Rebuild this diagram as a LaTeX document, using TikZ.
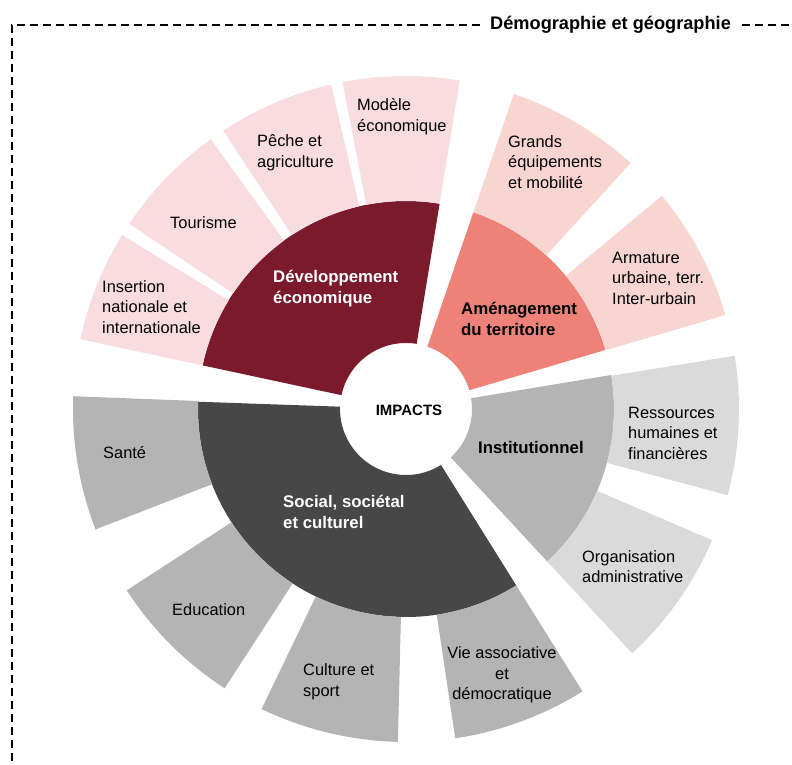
\documentclass[tikz,border=0pt]{standalone}
\usepackage{fontspec}
\setmainfont{Liberation Sans}
\definecolor{devc}{HTML}{7B1A2B}
\definecolor{devo}{HTML}{F8DCE0}
\definecolor{amc}{HTML}{EE8278}
\definecolor{amo}{HTML}{F8D5D0}
\definecolor{inc}{HTML}{B4B4B4}
\definecolor{ino}{HTML}{DADADA}
\definecolor{soc}{HTML}{474747}
\definecolor{soo}{HTML}{B4B4B4}
\newcommand\sectr[5]{\fill[#1, shift={(406,356)}] (#2:#4) -- (#2:#5) arc[start angle=#2,end angle=#3,radius=#5] -- (#3:#4) arc[start angle=#3,end angle=#2,radius=#4] -- cycle;}
\tikzset{
  lbl/.style={anchor=west, align=left, inner sep=0pt, text=black, font=\fontsize{16.4}{20.5}\selectfont},
  blbl/.style={anchor=west, align=left, inner sep=0pt, font=\bfseries\fontsize{16.8}{21}\selectfont},
  frame/.style={line width=1.8pt, dash pattern=on 8pt off 5pt}
}
\begin{document}
\begin{tikzpicture}[x=1pt,y=1pt]
\useasboundingbox (0,0) rectangle (792,765);
% inner ring
\sectr{devc}{80.7}{167.9}{66}{208}
\sectr{amc}{16.5}{71.1}{66}{208}
\sectr{inc}{-47.2}{9.4}{66}{208}
\sectr{soc}{178}{302}{66}{208}
% outer ring
\sectr{devo}{80.7}{101}{208}{333}
\sectr{devo}{103}{123.3}{208}{333}
\sectr{devo}{125.9}{146.2}{208}{333}
\sectr{devo}{148.5}{167.9}{208}{333}
\sectr{amo}{16.4}{39.8}{208}{333}
\sectr{amo}{47.6}{71.1}{208}{333}
\sectr{ino}{-47.2}{-23.2}{208}{333}
\sectr{ino}{-15}{9.2}{208}{333}
\sectr{soo}{177.8}{201.2}{208}{333}
\sectr{soo}{213}{237}{208}{333}
\sectr{soo}{244.3}{268.6}{208}{333}
\sectr{soo}{278.5}{302}{208}{333}
% frame
\draw[frame] (480,740) -- (12,740) -- (12,0);
\draw[frame] (742,740) -- (792,740);
\node[anchor=west, inner sep=0pt, font=\bfseries\fontsize{18.2}{22}\selectfont] (title) at (490,740) {Démographie et géographie};
% labels
\node[lbl] (modele) at (357,648.5) {Modèle\\économique};
\node[lbl] (peche) at (257,612.5) {Pêche et\\agriculture};
\node[lbl] (tour) at (170,542) {Tourisme};
\node[lbl] (insert) at (102,458) {Insertion\\nationale et\\internationale};
\node[blbl, text=white] (dev) at (273,476.5) {Développement\\économique};
\node[lbl] (grands) at (508,603) {Grands\\équipements\\et mobilité};
\node[lbl] (arma) at (612,487) {Armature\\urbaine, terr.\\Inter-urbain};
\node[blbl, text=black] (amen) at (461,446) {Aménagement\\du territoire};
\node[inner sep=0pt, font=\bfseries\fontsize{15}{18}\selectfont] (imp) at (409,355) {IMPACTS};
\node[blbl, text=black] (inst) at (478,317) {Institutionnel};
\node[lbl] (ress) at (628,332) {Ressources\\humaines et\\financières};
\node[lbl] (orga) at (582,198.5) {Organisation\\administrative};
\node[blbl, text=white] (soci) at (283,253) {Social, sociétal\\et culturel};
\node[lbl] (sante) at (103,312) {Santé};
\node[lbl] (educ) at (172,155) {Education};
\node[lbl] (cult) at (303,83) {Culture et\\sport};
\node[lbl, anchor=center, align=center] (vie) at (502,90) {Vie associative\\et\\démocratique};
\end{tikzpicture}
\end{document}
